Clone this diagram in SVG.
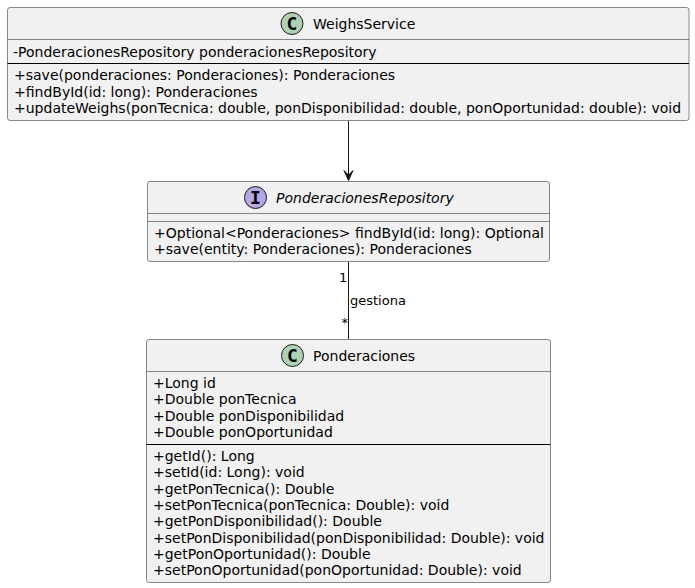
<svg xmlns="http://www.w3.org/2000/svg" width="695" height="588" viewBox="0 0 695 588">
<style>
.box{fill:#F1F1F1;stroke:#181818;stroke-width:.5}
.sep{stroke:#181818;stroke-width:.5;fill:none}
.blk{stroke:#000;stroke-width:1;fill:none}
.conn{stroke:#181818;stroke-width:1;fill:none}
.head{fill:#181818;stroke:#181818;stroke-width:1}
text{font-family:"DejaVu Sans",sans-serif;font-size:14px;fill:#000}
.lbl{font-size:13px}
.ci{stroke:#181818;stroke-width:1}
.g{font-weight:bold;font-size:18px;text-anchor:middle;font-family:"DejaVu Sans Mono",monospace}
</style>
<g id="connectors">
<path class="conn" d="M348.500 121V176"/>
<path class="head" d="M348.500 180.500L353 170.500L348.500 175L344 170.500Z"/>
<path class="conn" d="M348.500 262V339"/>
<text class="lbl" x="350" y="305">gestiona</text>
<text class="lbl" x="339" y="282">1</text>
<text class="lbl" x="341.500" y="327">*</text>
</g>
<g id="WeighsService">
<rect class="box" x="7.500" y="7.500" width="681.500" height="113" rx="2.500"/>
<circle class="ci" cx="292" cy="23.500" r="11" fill="#ADD1B2"/>
<text class="g" x="292" y="30">C</text>
<text x="313" y="28.500">WeighsService</text>
<path class="sep" d="M7.500 39.500H689"/>
<text x="13" y="56.500">-PonderacionesRepository ponderacionesRepository</text>
<path class="blk" d="M7.500 63.500H689"/>
<text x="14" y="80">+save(ponderaciones: Ponderaciones): Ponderaciones</text>
<text x="14" y="96.500">+findById(id: long): Ponderaciones</text>
<text x="14" y="113">+updateWeighs(ponTecnica: double, ponDisponibilidad: double, ponOportunidad: double): void</text>
</g>
<g id="PonderacionesRepository">
<rect class="box" x="147.500" y="181.500" width="402" height="80" rx="2.500"/>
<circle class="ci" cx="255.500" cy="197.500" r="11" fill="#B4A7E5"/>
<text class="g" x="255.500" y="204">I</text>
<text x="276" y="202.500" font-style="italic">PonderacionesRepository</text>
<path class="sep" d="M147.500 213.500H549.500M147.500 221.500H549.500"/>
<text x="154" y="238">+Optional&lt;Ponderaciones&gt; findById(id: long): Optional</text>
<text x="154" y="254">+save(entity: Ponderaciones): Ponderaciones</text>
</g>
<g id="Ponderaciones">
<rect class="box" x="146.500" y="339.500" width="404" height="243" rx="2.500"/>
<circle class="ci" cx="292.500" cy="355.500" r="11" fill="#ADD1B2"/>
<text class="g" x="292.500" y="362">C</text>
<text x="313" y="360.500">Ponderaciones</text>
<path class="sep" d="M146.500 371.500H550.500"/>
<text x="153" y="388">+Long id</text>
<text x="153" y="404">+Double ponTecnica</text>
<text x="153" y="421">+Double ponDisponibilidad</text>
<text x="153" y="437">+Double ponOportunidad</text>
<path class="blk" d="M146.500 444.500H550.500"/>
<text x="153" y="461">+getId(): Long</text>
<text x="153" y="477">+setId(id: Long): void</text>
<text x="153" y="494">+getPonTecnica(): Double</text>
<text x="153" y="510">+setPonTecnica(ponTecnica: Double): void</text>
<text x="153" y="526">+getPonDisponibilidad(): Double</text>
<text x="153" y="543">+setPonDisponibilidad(ponDisponibilidad: Double): void</text>
<text x="153" y="559">+getPonOportunidad(): Double</text>
<text x="153" y="575">+setPonOportunidad(ponOportunidad: Double): void</text>
</g>
</svg>
